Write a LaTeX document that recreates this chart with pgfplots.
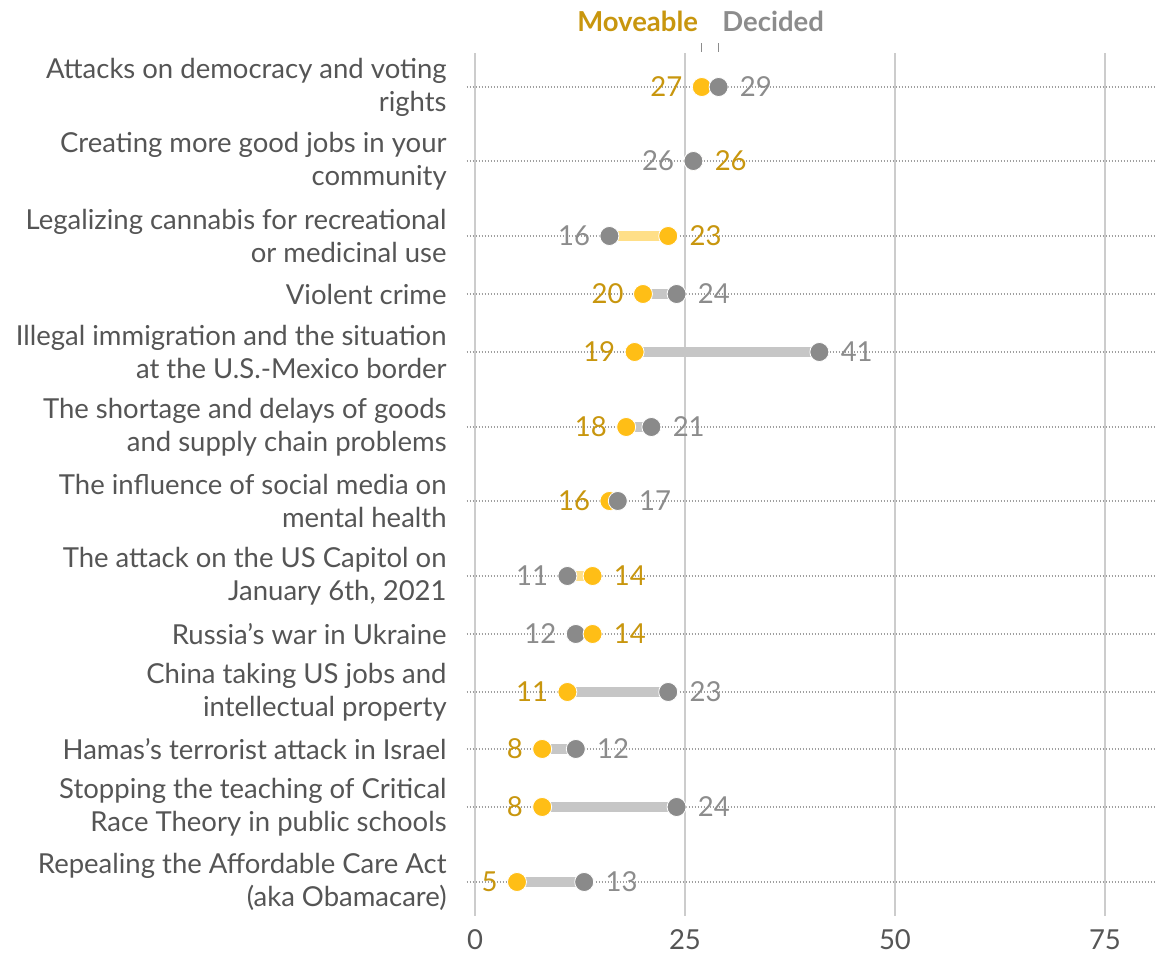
\documentclass[border=0pt]{standalone}
\usepackage{pgfplots}
\usepackage{pgfplotstable}
\pgfplotsset{compat=1.18}
\usepackage{fontspec}
\setmainfont{Lato}

\definecolor{goldtxt}{HTML}{C8960E}
\definecolor{golddot}{HTML}{FFBE16}
\definecolor{goldbar}{HTML}{FFDF88}
\definecolor{graydot}{HTML}{8A8A8A}
\definecolor{graytxt}{HTML}{8C8C8C}
\definecolor{graybar}{HTML}{C6C6C6}
\definecolor{labtxt}{HTML}{555555}
\definecolor{gridc}{HTML}{CCCCCC}

\newcommand\labfont{\fontsize{13.8}{16.5}\selectfont}
\newcommand\valfont{\fontsize{13.8}{16}\selectfont}

% y = row position (px from top), m = moveable, d = decided
\pgfplotstableread{
y m d
87 27 29
294 20 24
352 19 41
427 18 21
501 16 17
692 11 23
749 8 12
807 8 24
882 5 13
}\goldleft
\pgfplotstableread{
y m d
236 23 16
576 14 11
634 14 12
}\grayleft
\pgfplotstableread{
y m d
161 26 26
}\tie

\pgfplotsset{
  dot/.style={only marks, mark=*, mark size=4.75bp,
    mark options={fill=#1, draw=white, line width=0.4bp}},
  leftlab/.style={nodes near coords, point meta=x,
    every node near coord/.append style={anchor=east, inner sep=0pt,
      xshift=-9.5bp, font=\valfont, text=#1}},
  rightlab/.style={nodes near coords, point meta=x,
    every node near coord/.append style={anchor=west, inner sep=0pt,
      xshift=10.5bp, font=\valfont, text=#1}},
  bar/.style={only marks, mark=none, forget plot,
    error bars/.cd, x dir=plus, x explicit, error mark=none,
    error bar style={line width=5bp, #1}},
}

\begin{document}
\begin{tikzpicture}
\begin{axis}[
  x=4.2bp, y=0.5bp, y dir=reverse,
  xmin=-1, xmax=81, ymin=53, ymax=916,
  axis line style={draw=none}, major tick length=0pt,
  xtick={0,25,50,75},
  ytick={87,161,236,294,352,427,501,576,634,692,749,807,882},
  yticklabels={
    {Attacks on democracy and voting\\rights},
    {Creating more good jobs in your\\community},
    {Legalizing cannabis for recreational\\or medicinal use},
    {Violent crime},
    {Illegal immigration and the situation\\at the U.S.-Mexico border},
    {The shortage and delays of goods\\and supply chain problems},
    {The influence of social media on\\mental health},
    {The attack on the US Capitol on\\January 6th, 2021},
    {Russia's war in Ukraine},
    {China taking US jobs and\\intellectual property},
    {Hamas's terrorist attack in Israel},
    {Stopping the teaching of Critical\\Race Theory in public schools},
    {Repealing the Affordable Care Act\\(aka Obamacare)}},
  xmajorgrids, ymajorgrids,
  major x grid style={gridc, line width=1bp},
  major y grid style={gray!75, line width=0.6bp, dash pattern=on 0.8bp off 0.7bp},
  clip=false,
  tick label style={font=\labfont, text=labtxt},
  yticklabel style={align=right, inner sep=0pt, xshift=-9.8bp},
  xticklabel style={inner sep=0pt, yshift=-6.5bp},
  /pgf/number format/assume math mode=true,
]
% connecting bars
\addplot[bar=graybar] table[x=m, y=y, x error expr=\thisrow{d}-\thisrow{m}] {\goldleft};
\addplot[bar=goldbar] table[x=d, y=y, x error expr=\thisrow{m}-\thisrow{d}] {\grayleft};

% moveable on the left
\addplot[dot=golddot, leftlab=goldtxt] table[x=m, y=y] {\goldleft};
\addplot[dot=graydot, rightlab=graytxt] table[x=d, y=y] {\goldleft};
% decided on the left
\addplot[dot=graydot, leftlab=graytxt] table[x=d, y=y] {\grayleft};
\addplot[dot=golddot, rightlab=goldtxt] table[x=m, y=y] {\grayleft};
% tie
\addplot[dot=golddot, rightlab=goldtxt] table[x=m, y=y] {\tie};
\addplot[dot=graydot, leftlab=graytxt] table[x=d, y=y] {\tie};

% legend
\node[anchor=east, inner sep=0pt, font=\valfont\bfseries, text=goldtxt] at (axis cs:26.6,21) {Moveable};
\node[anchor=west, inner sep=0pt, font=\valfont\bfseries, text=graytxt] at (axis cs:29.4,21) {Decided};
\draw[graytxt, line width=0.5bp] (axis cs:27,43) -- (axis cs:27,52);
\draw[graytxt, line width=0.5bp] (axis cs:29,43) -- (axis cs:29,52);

\coordinate (bl) at (axis cs:-56.548,954);
\coordinate (tr) at (axis cs:82.143,0);
\end{axis}
\pgfresetboundingbox
\path[use as bounding box] (bl) rectangle (tr);
\end{tikzpicture}
\end{document}
